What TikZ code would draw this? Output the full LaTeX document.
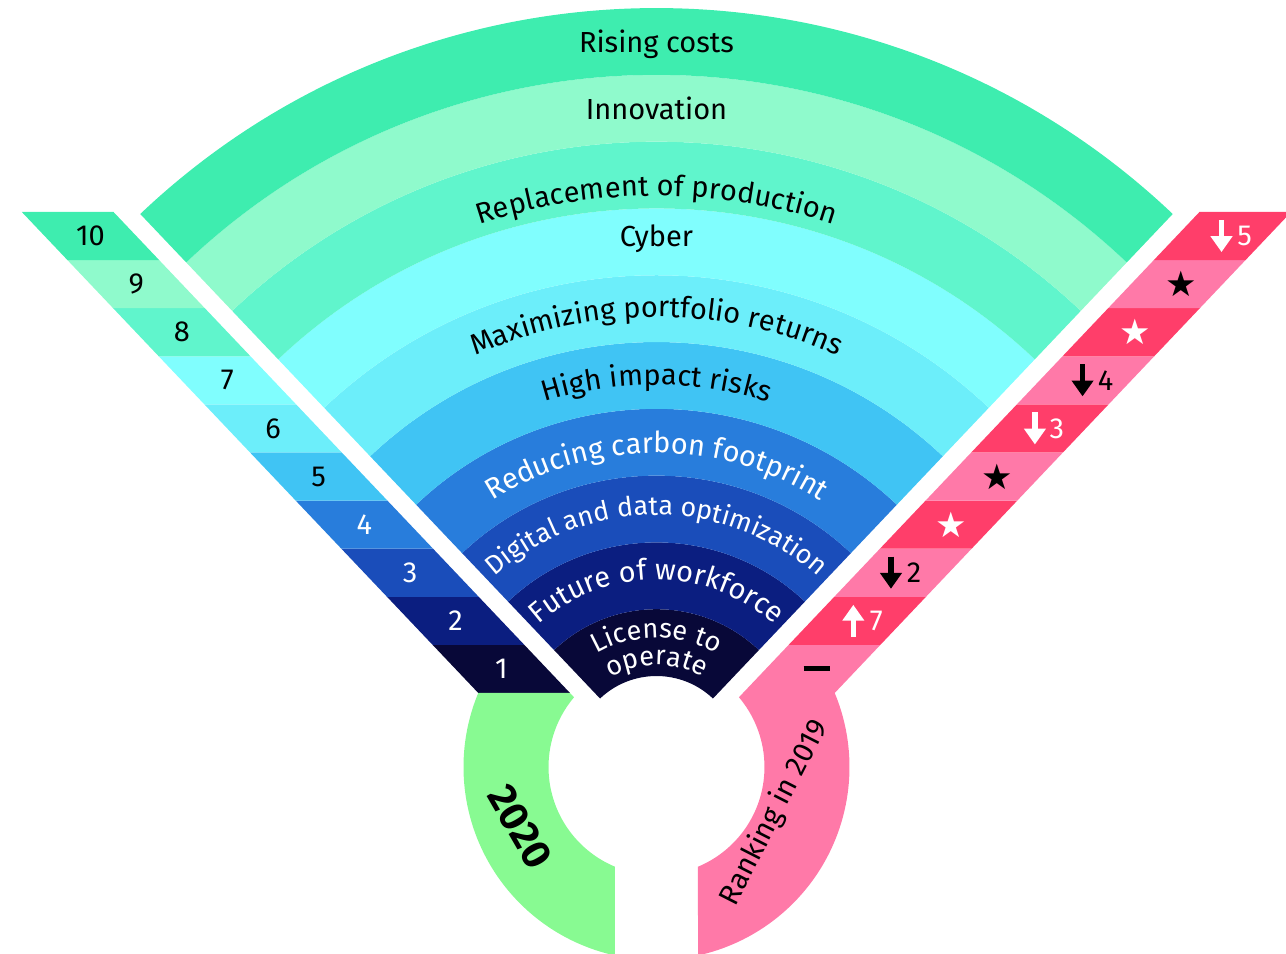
\documentclass[tikz,border=0pt]{standalone}
\usepackage{fontspec}
\setmainfont{Fira Sans}
\newfontfamily\starfont{DejaVu Sans}
\usetikzlibrary{decorations.text,arrows.meta,calc}

\definecolor{fanA}{HTML}{080838}
\definecolor{fanB}{HTML}{0B1E80}
\definecolor{fanC}{HTML}{1A4DBA}
\definecolor{fanD}{HTML}{287DDC}
\definecolor{fanE}{HTML}{40C4F4}
\definecolor{fanF}{HTML}{6CEEFA}
\definecolor{fanG}{HTML}{80FEFE}
\definecolor{fanH}{HTML}{60F5CC}
\definecolor{fanI}{HTML}{8FFACC}
\definecolor{fanJ}{HTML}{3EEDAF}
\definecolor{rankred}{HTML}{FF3E6A}
\definecolor{rankpink}{HTML}{FF79A8}
\definecolor{yeargreen}{HTML}{88FA92}

\newcommand{\ringfont}{\fontsize{16.5}{19}\selectfont}
\newcommand{\licfont}{\fontsize{15.5}{18}\selectfont}
\newcommand{\digfont}{\fontsize{15.2}{18}\selectfont}

\tikzset{
  numtext/.style={font=\ringfont},
  startext/.style={font=\starfont\fontsize{20}{22}\selectfont},
  rankarr/.style={line width=3.2pt, -{Triangle[length=9pt,width=12pt]}},
  ringpath/.style={decorate, decoration={text along path, text align=center, text={|\ringfont|#1}}},
}

\begin{document}
\begin{tikzpicture}[x=0.02cm, y=0.02cm]
\useasboundingbox (-656.5,-196) rectangle (629.5,758);

% fan of rings
\foreach \i/\col in {1/fanA,2/fanB,3/fanC,4/fanD,5/fanE,6/fanF,7/fanG,8/fanH,9/fanI,10/fanJ}{
  \pgfmathsetmacro{\rin}{82+66.8*(\i-1)}
  \pgfmathsetmacro{\rout}{82+66.8*\i}
  \fill[\col] (133.5:\rout) arc[start angle=133.5, end angle=46.5, radius=\rout]
    -- (46.5:\rin) arc[start angle=46.5, end angle=133.5, radius=\rin] -- cycle;
}

% slanted strips
\begin{scope}[shift={(0,65)}, xslant=-0.949]
  \foreach \k/\col in {1/fanA,2/fanB,3/fanC,4/fanD,5/fanE,6/fanF,7/fanG,8/fanH,9/fanI,10/fanJ}
    \fill[\col] (-178.2,{48.1*(\k-1)}) rectangle (-86.5,{48.1*\k});
\end{scope}
\begin{scope}[shift={(0,65)}, xslant=0.949]
  \foreach \k/\col in {1/rankpink,2/rankred,3/rankpink,4/rankred,5/rankpink,6/rankred,7/rankpink,8/rankred,9/rankpink,10/rankred}
    \fill[\col] (86.5,{48.1*(\k-1)}) rectangle (178.2,{48.1*\k});
\end{scope}

% half rings at the bottom
\begin{scope}[shift={(0,-9)}]
  \fill[yeargreen] (157.45:193) arc[start angle=157.45, end angle=257.58, radius=193]
    -- (247.4:108) arc[start angle=247.4, end angle=139.8, radius=108] -- (-86.5,74) -- cycle;
  \begin{scope}[xscale=-1]
    \fill[rankpink] (157.45:193) arc[start angle=157.45, end angle=257.58, radius=193]
      -- (247.4:108) arc[start angle=247.4, end angle=139.8, radius=108] -- (-86.5,74) -- cycle;
  \end{scope}
\end{scope}

\foreach \k in {1,...,10}{
  \coordinate (l\k) at ({-132.35-45.65*(\k-0.5)}, {65+48.1*(\k-0.5)});
  \coordinate (r\k) at ({132.35+45.65*(\k-0.5)}, {65+48.1*(\k-0.5)});
}

% 2020 ranks
\foreach \k/\tc in {1/white,2/white,3/white,4/white,5/black,6/black,7/black,8/black,9/black,10/black}
  \node[numtext, text=\tc] (n\k) at (l\k) {\k};

% 2019 ranks
\draw[rankarr, white] ($(r10)+(-1,16)$) -- ($(r10)+(-1,-16)$);
\node[numtext, white] (d10) at ($(r10)+(22,0)$) {5};
\node[startext] (s9) at ($(r9)+(4,0)$) {★};
\node[startext, white] (s8) at ($(r8)+(4,0)$) {★};
\draw[rankarr] ($(r7)+(-3,16)$) -- ($(r7)+(-3,-16)$);
\node[numtext] (d7) at ($(r7)+(20,0)$) {4};
\draw[rankarr, white] ($(r6)+(-5,16)$) -- ($(r6)+(-5,-16)$);
\node[numtext, white] (d6) at ($(r6)+(17,0)$) {3};
\node[startext] (s5) at ($(r5)+(3,0)$) {★};
\node[startext, white] (s4) at ($(r4)+(3,0)$) {★};
\draw[rankarr] ($(r3)+(-12,16)$) -- ($(r3)+(-12,-16)$);
\node[numtext] (d3) at ($(r3)+(11,0)$) {2};
\draw[rankarr, white] ($(r2)+(-4,-16)$) -- ($(r2)+(-4,16)$);
\node[numtext, white] (d2) at ($(r2)+(19,0)$) {7};
\draw[line width=2.8pt] ($(r1)+(-8,0)$) -- ($(r1)+(18,0)$);

% ring labels
\node[anchor=base, font=\ringfont] (t10) at (0,705) {Rising costs};
\node[anchor=base, font=\ringfont] (t9) at (0,638) {Innovation};
\node[anchor=base, font=\ringfont] (t7) at (0,511) {Cyber};
\path[ringpath=Replacement of production] (150:562) arc[start angle=150, end angle=30, radius=562];
\path[ringpath=Maximizing portfolio returns] (150:441) arc[start angle=150, end angle=30, radius=441];
\path[ringpath=High impact risks] (150:373) arc[start angle=150, end angle=30, radius=373];
\path[ringpath=Reducing carbon footprint, decoration={text color=white}] (150:305) arc[start angle=150, end angle=30, radius=305];
\path[decorate, decoration={text along path, text align=center, text color=white, text={|\digfont|Digital and data optimization}}] (150:243) arc[start angle=150, end angle=30, radius=243];
\path[ringpath=Future of workforce, decoration={text color=white}] (150:178) arc[start angle=150, end angle=30, radius=178];
\path[decorate, decoration={text along path, text align=center, text color=white, text={|\licfont|License to}}] (150:120) arc[start angle=150, end angle=30, radius=120];
\path[decorate, decoration={text along path, text align=center, text color=white, text={|\licfont|operate}}] (150:93) arc[start angle=150, end angle=30, radius=93];

\node[font=\bfseries\fontsize{23}{26}\selectfont, rotate=-60] (year) at (-136.5,-69) {2020};
\node[font=\ringfont, rotate=63] (prev) at (118,-55) {Ranking in 2019};
\end{tikzpicture}
\end{document}
